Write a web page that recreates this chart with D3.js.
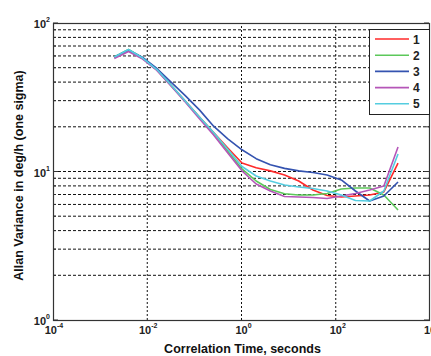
<!DOCTYPE html>
<html>
<head>
<meta charset="utf-8">
<script src="https://cdn.jsdelivr.net/npm/d3@7"></script>
<style>
  body { margin: 0; background: #fff; }
  svg { display: block; font-family: "Liberation Sans", Arial, sans-serif; }
</style>
</head>
<body>
<div class="allan-chart"></div>
<script>
// correlation time (s), octave steps
const tau = [0.002, 0.004, 0.008, 0.016, 0.032, 0.064, 0.128, 0.256, 0.512, 1.024,
  2.048, 4.096, 8.192, 16.38, 32.77, 65.54, 131.1, 262.1, 524.3, 1049, 2097];

const s1 = [58.6, 65.3, 57.7, 48.3, 37.9, 29.8, 23.3, 18.3, 14.4, 11.4,
  10.6, 10.1, 9.47, 8.63, 7.51, 6.89, 6.73, 6.84, 6.95, 7.28, 11.4];
const s2 = [59.0, 66.3, 58.1, 48.6, 38.0, 29.7, 23.2, 18.2, 13.7, 10.4,
  8.63, 7.56, 7.08, 6.95, 6.95, 7.11, 7.62, 7.74, 7.74, 6.95, 5.50];
const s3 = [59.0, 65.8, 58.6, 49.4, 40.0, 32.4, 26.0, 20.2, 16.6, 14.0,
  12.2, 11.1, 10.5, 10.1, 9.85, 9.47, 8.77, 7.39, 6.33, 6.84, 8.50];
const s4 = [57.7, 64.3, 57.2, 47.9, 37.6, 29.4, 22.7, 17.6, 13.3, 10.1,
  8.24, 7.39, 6.79, 6.73, 6.68, 6.58, 6.84, 7.11, 7.51, 7.99, 14.6];
const s5 = [59.0, 66.3, 58.1, 48.6, 38.2, 29.8, 23.3, 18.3, 14.1, 10.8,
  9.33, 8.63, 8.11, 7.86, 7.68, 7.39, 6.95, 6.38, 6.33, 7.39, 13.1];

const seriesNames = ['1', '2', '3', '4', '5'];
const seriesColors = ['#ff2a2a', '#5cc85a', '#3453b0', '#b556b8', '#55cde0'];
const xTickExp = [-4, -2, 0, 2, 4];
const yTickExp = [0, 1, 2];

const width = 431, height = 356;
const margin = { top: 23, right: 1, bottom: 36, left: 53 };

const svg = d3.select('.allan-chart').append('svg')
  .attr('width', width)
  .attr('height', height);

const x = d3.scaleLog().domain([1e-4, 1e4]).range([margin.left, width - margin.right]);
const y = d3.scaleLog().domain([1, 100]).range([height - margin.bottom, margin.top]);

const x0 = x.range()[0], x1 = x.range()[1];
const y0 = y.range()[0], y1 = y.range()[1];

// grid: horizontal at every y tick (major + minor), vertical at labelled x ticks
const yGrid = y.ticks().filter(v => v > 1 && v < 100);
svg.append('g')
  .selectAll('line')
  .data(yGrid)
  .enter().append('line')
  .attr('x1', x0).attr('x2', x1)
  .attr('y1', d => y(d)).attr('y2', d => y(d))
  .attr('stroke', '#111')
  .attr('stroke-width', 1)
  .attr('stroke-dasharray', '3,2');

svg.append('g')
  .selectAll('line')
  .data(xTickExp.slice(1, -1))
  .enter().append('line')
  .attr('x1', d => x(Math.pow(10, d))).attr('x2', d => x(Math.pow(10, d)))
  .attr('y1', y0).attr('y2', y1)
  .attr('stroke', '#111')
  .attr('stroke-width', 1)
  .attr('stroke-dasharray', '2,2');

// curves
const line = d3.line()
  .x((d, i) => x(tau[i]))
  .y(d => y(d));

[s1, s2, s3, s4, s5].forEach((s, i) => {
  svg.append('path')
    .datum(s)
    .attr('fill', 'none')
    .attr('stroke', seriesColors[i])
    .attr('stroke-width', 1.6)
    .attr('stroke-linejoin', 'round')
    .attr('d', line);
});

// box
svg.append('rect')
  .attr('x', x0 + 0.5).attr('y', y1 + 0.5)
  .attr('width', x1 - x0 - 1).attr('height', y0 - y1)
  .attr('fill', 'none')
  .attr('stroke', '#333')
  .attr('stroke-width', 1.2);

// inward ticks
const yMinor = y.ticks();
svg.append('g')
  .selectAll('line')
  .data(yMinor)
  .enter().append('line')
  .attr('x1', x0).attr('x2', d => x0 + (yTickExp.includes(Math.log10(d)) ? 5 : 3))
  .attr('y1', d => y(d)).attr('y2', d => y(d))
  .attr('stroke', '#333');
svg.append('g')
  .selectAll('line')
  .data(yMinor)
  .enter().append('line')
  .attr('x1', x1 - 1).attr('x2', d => x1 - 1 - (yTickExp.includes(Math.log10(d)) ? 5 : 3))
  .attr('y1', d => y(d)).attr('y2', d => y(d))
  .attr('stroke', '#333');

// tick labels with exponents
function powLabel(g, e, px, py, anchor) {
  const t = g.append('text')
    .attr('x', px)
    .attr('y', py)
    .attr('text-anchor', anchor)
    .attr('font-size', 11)
    .attr('font-weight', 'bold')
    .attr('fill', '#222');
  t.append('tspan').text('10');
  t.append('tspan').attr('font-size', 7).attr('dy', -6).text(e);
}

const xLabels = svg.append('g');
xTickExp.forEach(e => powLabel(xLabels, e, x(Math.pow(10, e)) + (e < 0 ? 1 : 2), y0 + 14, 'middle'));

const yLabels = svg.append('g');
yTickExp.forEach(e => powLabel(yLabels, e, x0 - 3, y(Math.pow(10, e)) + 5, 'end'));

// axis titles
svg.append('text')
  .attr('x', (x0 + x1) / 2 + 1)
  .attr('y', height - 3)
  .attr('text-anchor', 'middle')
  .attr('font-size', 12.5)
  .attr('font-weight', 'bold')
  .attr('fill', '#111')
  .text('Correlation Time, seconds');

svg.append('text')
  .attr('transform', 'translate(23,' + ((y0 + y1) / 2 + 4) + ') rotate(-90)')
  .attr('text-anchor', 'middle')
  .attr('font-size', 12.5)
  .attr('font-weight', 'bold')
  .attr('fill', '#111')
  .text('Allan Variance in deg/h (one sigma)');

// legend
const legend = svg.append('g').attr('transform', 'translate(369,29)');
legend.append('rect')
  .attr('x', 0.5).attr('y', 0.5)
  .attr('width', 60).attr('height', 85)
  .attr('fill', '#fff')
  .attr('stroke', '#222')
  .attr('stroke-width', 1);

const items = legend.selectAll('g.item')
  .data(seriesNames)
  .enter().append('g')
  .attr('class', 'item')
  .attr('transform', (d, i) => 'translate(0,' + (10 + i * 16.2) + ')');

items.append('line')
  .attr('x1', 6).attr('x2', 40)
  .attr('y1', 0).attr('y2', 0)
  .attr('stroke', (d, i) => seriesColors[i])
  .attr('stroke-width', 1.6);

items.append('text')
  .attr('x', 44)
  .attr('y', 4.5)
  .attr('font-size', 12)
  .attr('font-weight', 'bold')
  .attr('fill', '#222')
  .text(d => d);
</script>
</body>
</html>
